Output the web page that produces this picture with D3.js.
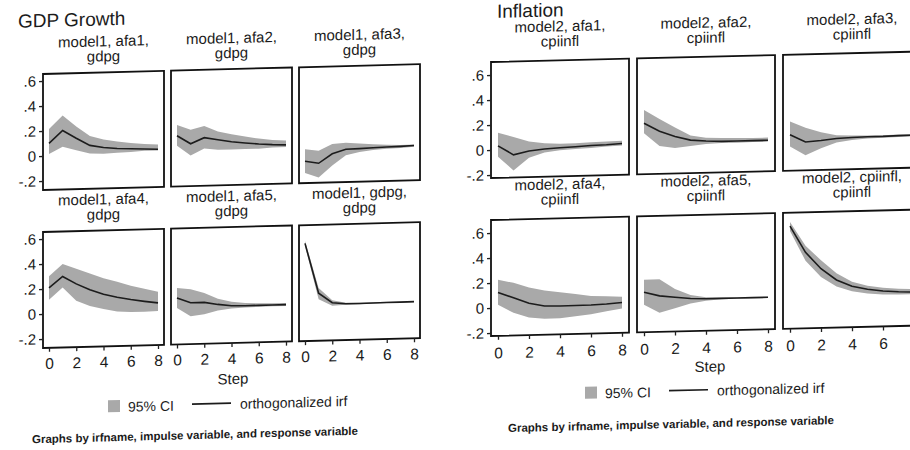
<!DOCTYPE html>
<html>
<head>
<meta charset="utf-8">
<script src="https://cdnjs.cloudflare.com/ajax/libs/d3/7.8.5/d3.min.js"></script>
<style>
  body { margin: 0; background: #fff; }
  svg { display: block; }
  text { font-family: "Liberation Sans", Arial, sans-serif; fill: #1b1b1b; }
</style>
</head>
<body>
<svg width="910" height="450"></svg>
<script>
var steps = [0, 1, 2, 3, 4, 5, 6, 7, 8];
var xTicks = [0, 2, 4, 6, 8];
var yTicks = [-0.2, 0, 0.2, 0.4, 0.6];
var yTickLabels = ["-.2", "0", ".2", ".4", ".6"];

// GDP growth panels (model1), read left to right, top to bottom
var gdpTitles = [
  ["model1, afa1,", "gdpg"], ["model1, afa2,", "gdpg"], ["model1, afa3,", "gdpg"],
  ["model1, afa4,", "gdpg"], ["model1, afa5,", "gdpg"], ["model1, gdpg,", "gdpg"]
];
var gdpIrf = [
  [0.10, 0.20, 0.135, 0.075, 0.055, 0.045, 0.04, 0.035, 0.03],
  [0.134, 0.067, 0.113, 0.094, 0.075, 0.062, 0.051, 0.043, 0.038],
  [-0.097, -0.116, -0.043, -0.01, -0.007, -0.003, 0, 0.002, 0.006],
  [0.207, 0.296, 0.234, 0.185, 0.145, 0.118, 0.097, 0.08, 0.065],
  [0.10, 0.059, 0.059, 0.04, 0.027, 0.024, 0.024, 0.024, 0.024],
  [0.51, 0.108, 0.03, 0.018, 0.018, 0.019, 0.02, 0.02, 0.021]
];
var gdpLo = [
  [0.015, 0.07, 0.04, 0.01, 0.005, 0.01, 0.013, 0.02, 0.02],
  [0.054, -0.027, 0.027, 0.013, 0.013, 0.013, 0.013, 0.019, 0.022],
  [-0.19, -0.23, -0.137, -0.058, -0.034, -0.022, -0.014, -0.01, -0.004],
  [0.113, 0.207, 0.10, 0.054, 0.027, 0.005, -0.003, -0.003, 0],
  [0.019, -0.048, -0.035, -0.008, 0.005, 0.01, 0.012, 0.013, 0.013],
  [0.49, 0.06, 0.005, 0.01, 0.012, 0.014, 0.015, 0.016, 0.016]
];
var gdpHi = [
  [0.215, 0.32, 0.23, 0.15, 0.12, 0.10, 0.085, 0.075, 0.067],
  [0.22, 0.18, 0.207, 0.16, 0.134, 0.113, 0.094, 0.08, 0.073],
  [0, -0.016, 0.036, 0.042, 0.034, 0.025, 0.018, 0.014, 0.015],
  [0.30, 0.395, 0.355, 0.315, 0.274, 0.242, 0.207, 0.18, 0.153],
  [0.18, 0.167, 0.134, 0.086, 0.059, 0.046, 0.04, 0.037, 0.037],
  [0.53, 0.15, 0.05, 0.026, 0.024, 0.024, 0.025, 0.025, 0.026]
];

// Inflation panels (model2)
var infTitles = [
  ["model2, afa1,", "cpiinfl"], ["model2, afa2,", "cpiinfl"], ["model2, afa3,", "cpiinfl"],
  ["model2, afa4,", "cpiinfl"], ["model2, afa5,", "cpiinfl"], ["model2, cpiinfl,", "cpiinfl"]
];
var infIrf = [
  [0.032, -0.043, -0.016, -0.003, 0.005, 0.01, 0.016, 0.02, 0.027],
  [0.184, 0.117, 0.072, 0.04, 0.03, 0.024, 0.024, 0.024, 0.024],
  [0.064, 0.003, 0.011, 0.024, 0.029, 0.032, 0.032, 0.035, 0.037],
  [0.123, 0.077, 0.03, 0.005, 0.003, 0.003, 0.005, 0.01, 0.019],
  [0.096, 0.064, 0.05, 0.037, 0.032, 0.032, 0.032, 0.032, 0.032],
  [0.597, 0.384, 0.25, 0.157, 0.104, 0.077, 0.059, 0.05, 0.045]
];
var infLo = [
  [-0.056, -0.168, -0.07, -0.03, -0.016, -0.008, -0.003, 0.005, 0.011],
  [0.104, 0, -0.02, -0.008, 0.005, 0.01, 0.01, 0.013, 0.013],
  [-0.03, -0.104, -0.05, -0.008, 0.01, 0.018, 0.022, 0.025, 0.027],
  [0.024, -0.043, -0.083, -0.096, -0.096, -0.083, -0.07, -0.048, -0.03],
  [-0.003, -0.07, -0.037, -0.003, 0.016, 0.024, 0.026, 0.027, 0.027],
  [0.557, 0.317, 0.184, 0.104, 0.064, 0.043, 0.032, 0.029, 0.029]
];
var infHi = [
  [0.136, 0.10, 0.06, 0.043, 0.037, 0.037, 0.043, 0.045, 0.048],
  [0.29, 0.216, 0.144, 0.077, 0.056, 0.05, 0.048, 0.045, 0.045],
  [0.17, 0.117, 0.077, 0.05, 0.045, 0.043, 0.042, 0.044, 0.046],
  [0.224, 0.197, 0.157, 0.13, 0.112, 0.096, 0.077, 0.072, 0.064],
  [0.197, 0.197, 0.117, 0.064, 0.043, 0.038, 0.036, 0.035, 0.035],
  [0.63, 0.437, 0.317, 0.21, 0.139, 0.104, 0.085, 0.075, 0.068]
];

var svg = d3.select("svg");
var bandColor = "#a9a9a9";
var lineColor = "#1c1c1c";

drawFigure = function(f)
{
  // the scan is a bit tilted, so each figure gets a small skew
  var g = svg.append("g")
    .attr("transform", "translate(" + f.colX[0] + ",0) skewY(" + f.skew + ") translate(" + (-f.colX[0]) + ",0)");

  g.append("text")
   .attr("x", f.titleX)
   .attr("y", f.titleY)
   .style("font-size", "19px")
   .text(f.name);

  for (var k = 0; k < 6; k++) {
    var col = k % 3;
    var row = Math.floor(k / 3);
    var px = f.colX[col];
    var py = f.rowY[row];

    var x = d3.scaleLinear().domain([0, 8]).range([px + f.pad, px + f.colW - f.pad]);
    var y = d3.scaleLinear().domain(f.yDomain).range([py + f.rowH, py]);

    var title = g.append("text")
      .attr("text-anchor", "middle")
      .style("font-size", "15px");
    title.append("tspan").attr("x", px + f.colW / 2).attr("y", py + f.titleDy[0]).text(f.titles[k][0]);
    title.append("tspan").attr("x", px + f.colW / 2).attr("y", py + f.titleDy[1]).text(f.titles[k][1]);

    var band = d3.area()
      .x(function(d, i) { return x(steps[i]); })
      .y0(function(d, i) { return y(f.lo[k][i]); })
      .y1(function(d, i) { return y(f.hi[k][i]); });

    var line = d3.line()
      .x(function(d, i) { return x(steps[i]); })
      .y(function(d) { return y(d); });

    g.append("path")
     .attr("d", band(steps))
     .attr("fill", bandColor);

    g.append("path")
     .attr("d", line(f.irf[k]))
     .attr("fill", "none")
     .attr("stroke", lineColor)
     .attr("stroke-width", 1.6);

    g.append("rect")
     .attr("x", px)
     .attr("y", py)
     .attr("width", f.colW)
     .attr("height", f.rowH)
     .attr("fill", "none")
     .attr("stroke", "#111")
     .attr("stroke-width", 1.8);

    if (col == 0) {
      var ya = g.append("g")
        .attr("transform", "translate(" + px + ",0)")
        .call(d3.axisLeft(y).tickValues(yTicks).tickSize(4).tickPadding(3)
          .tickFormat(function(d, i) { return yTickLabels[i]; }));
      ya.select(".domain").remove();
      ya.selectAll("text").style("font-size", "15px").attr("fill", "#1b1b1b");
      ya.selectAll("line").attr("stroke", "#222").attr("stroke-width", 1.3);
    }

    if (row == 1) {
      var xa = g.append("g")
        .attr("transform", "translate(0," + (py + f.rowH) + ")")
        .call(d3.axisBottom(x).tickValues(xTicks).tickSize(4).tickPadding(f.xPad)
          .tickFormat(d3.format("d")));
      xa.select(".domain").remove();
      xa.selectAll("text").style("font-size", "15.5px").attr("fill", "#1b1b1b");
      xa.selectAll("line").attr("stroke", "#222").attr("stroke-width", 1.3);
    }
  } // Each panel

  g.append("text")
   .attr("x", f.stepX)
   .attr("y", f.stepY)
   .attr("text-anchor", "middle")
   .style("font-size", "15px")
   .text("Step");

  // legend
  g.append("rect")
   .attr("x", f.legX)
   .attr("y", f.legY - 12)
   .attr("width", 12)
   .attr("height", 12)
   .attr("fill", bandColor);
  g.append("text")
   .attr("x", f.legX + 20)
   .attr("y", f.legY)
   .style("font-size", "14px")
   .text("95% CI");
  g.append("line")
   .attr("x1", f.legX + 84)
   .attr("x2", f.legX + 123)
   .attr("y1", f.legY - 6)
   .attr("y2", f.legY - 6)
   .attr("stroke", lineColor)
   .attr("stroke-width", 1.6);
  g.append("text")
   .attr("x", f.legX + 132)
   .attr("y", f.legY)
   .style("font-size", "14px")
   .text("orthogonalized irf");

  g.append("text")
   .attr("x", f.noteX)
   .attr("y", f.noteY)
   .style("font-size", "11.5px")
   .style("font-weight", "bold")
   .text("Graphs by irfname, impulse variable, and response variable");
}

drawFigure({
  name: "GDP Growth", titleX: 18, titleY: 27, skew: -1.5,
  colX: [43, 171, 299], colW: 121, rowY: [74, 232], rowH: 116, pad: 6,
  yDomain: [-0.272, 0.656], xPad: 6, titleDy: [-26, -11],
  titles: gdpTitles, irf: gdpIrf, lo: gdpLo, hi: gdpHi,
  stepX: 233, stepY: 389, legX: 108, legY: 414, noteX: 32, noteY: 443
});

drawFigure({
  name: "Inflation", titleX: 497, titleY: 18, skew: -1.4,
  colX: [491, 637, 783], colW: 138, rowY: [62, 220], rowH: 116, pad: 7,
  yDomain: [-0.224, 0.704], xPad: 7.5, titleDy: [-29, -14],
  titles: infTitles, irf: infIrf, lo: infLo, hi: infHi,
  stepX: 710, stepY: 377, legX: 585, legY: 401, noteX: 508, noteY: 432.5
});
</script>
</body>
</html>
